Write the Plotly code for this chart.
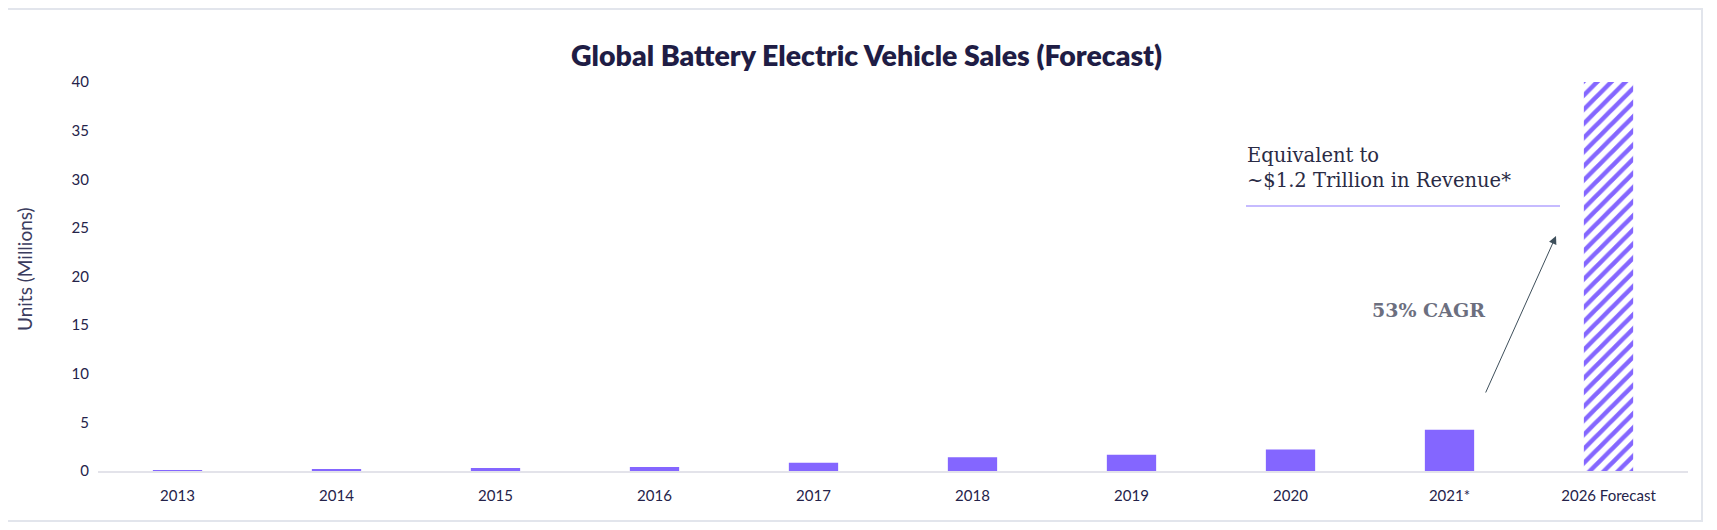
import plotly.graph_objects as go

# ---- data ----
categories = ["2013", "2014", "2015", "2016", "2017", "2018", "2019", "2020", "2021*", "2026 Forecast"]
sales_millions = [0.1, 0.18, 0.3, 0.4, 0.85, 1.42, 1.67, 2.2, 4.25, 40]
forecast_flags = [False] * 9 + [True]
y_ticks = [0, 5, 10, 15, 20, 25, 30, 35, 40]

title_text = "Global Battery Electric Vehicle Sales (Forecast)"
y_title = "Units (Millions)"
note_line1 = "Equivalent to"
note_line2 = "~$1.2 Trillion in Revenue*"
cagr_text = "53% CAGR"

# ---- styling ----
OFF = 8                     # browser default body margin
W, H = 1717 - OFF, 530 - OFF
PLOT_L, PLOT_R, PLOT_T, PLOT_B = 98, 1688, 82, 471   # page pixel box of the plot area
L, R = PLOT_L - OFF, W - (PLOT_R - OFF)
T, B = PLOT_T - OFF, H - (PLOT_B - OFF)
PW, PH = PLOT_R - PLOT_L, PLOT_B - PLOT_T
PURPLE = "#8466ff"
NAVY = "#1f1d45"


def px(x):
    return (x - PLOT_L) / PW


def py(y):
    return (PLOT_B - y) / PH


fig = go.Figure()
fig.add_trace(go.Bar(
    x=categories,
    y=sales_millions,
    marker=dict(
        color=PURPLE,
        line=dict(width=0),
        pattern=dict(
            shape=["/" if f else "" for f in forecast_flags],
            fgcolor=[PURPLE] * len(categories),
            bgcolor=["white"] * len(categories),
            size=10,
            solidity=0.45,
            fillmode="replace",
        ),
    ),
    hoverinfo="x+y",
    showlegend=False,
))

shapes = [
    # outer frame
    dict(type="rect", xref="paper", yref="paper",
         x0=px(-20), x1=px(1702), y0=py(521), y1=py(9),
         line=dict(color="#e2e5ec", width=2), fillcolor="rgba(0,0,0,0)", layer="below"),
    # underline of the revenue note
    dict(type="line", xref="paper", yref="paper",
         x0=px(1246), x1=px(1560), y0=py(206), y1=py(206),
         line=dict(color="#b3a4ff", width=1.5)),
]

annotations = [
    dict(text=title_text, xref="paper", yref="paper", x=px(866), y=py(55),
         xanchor="center", yanchor="middle", showarrow=False,
         font=dict(family="Lato", size=28.5, color=NAVY, weight=800)),
    dict(text=y_title, xref="paper", yref="paper", x=px(24), y=py(269),
         xanchor="center", yanchor="middle", showarrow=False, textangle=-90,
         font=dict(family="Lato", size=19, color="#3a3c5e")),
    dict(text=note_line1, xref="paper", yref="paper", x=px(1245), y=py(155),
         xanchor="left", yanchor="middle", showarrow=False,
         font=dict(family="DejaVu Serif", size=19.5, color="#2a2b45")),
    dict(text=note_line2, xref="paper", yref="paper", x=px(1245), y=py(180),
         xanchor="left", yanchor="middle", showarrow=False,
         font=dict(family="DejaVu Serif", size=19.5, color="#2a2b45")),
    dict(text=cagr_text, xref="paper", yref="paper", x=px(1428), y=py(310),
         xanchor="center", yanchor="middle", showarrow=False,
         font=dict(family="DejaVu Serif", size=19, color="#6c6f7f", weight="bold")),
    dict(text="", xref="paper", yref="paper", x=px(1556), y=py(236),
         ax=-71, ay=158, axref="pixel", ayref="pixel",
         showarrow=True, arrowhead=2, arrowsize=1.6, arrowwidth=1,
         arrowcolor="#3e4f5b"),
]

fig.update_layout(
    width=W, height=H,
    margin=dict(l=L, r=R, t=T, b=B, pad=0),
    paper_bgcolor="white", plot_bgcolor="white",
    bargap=0.69,
    font=dict(family="Lato", color=NAVY),
    shapes=shapes,
    annotations=annotations,
    xaxis=dict(
        type="category",
        showgrid=False, zeroline=False,
        showline=True, linecolor="#e3e3ea", linewidth=2,
        ticks="", ticklabelstandoff=10,
        tickfont=dict(family="Lato", size=15, color="#25234a"),
    ),
    yaxis=dict(
        range=[0, 40],
        tickvals=y_ticks,
        showgrid=False, zeroline=False, showline=False,
        ticks="", ticklabelstandoff=8,
        tickfont=dict(family="Lato", size=15, color="#25234a"),
    ),
)

fig.write_html("out.html")
